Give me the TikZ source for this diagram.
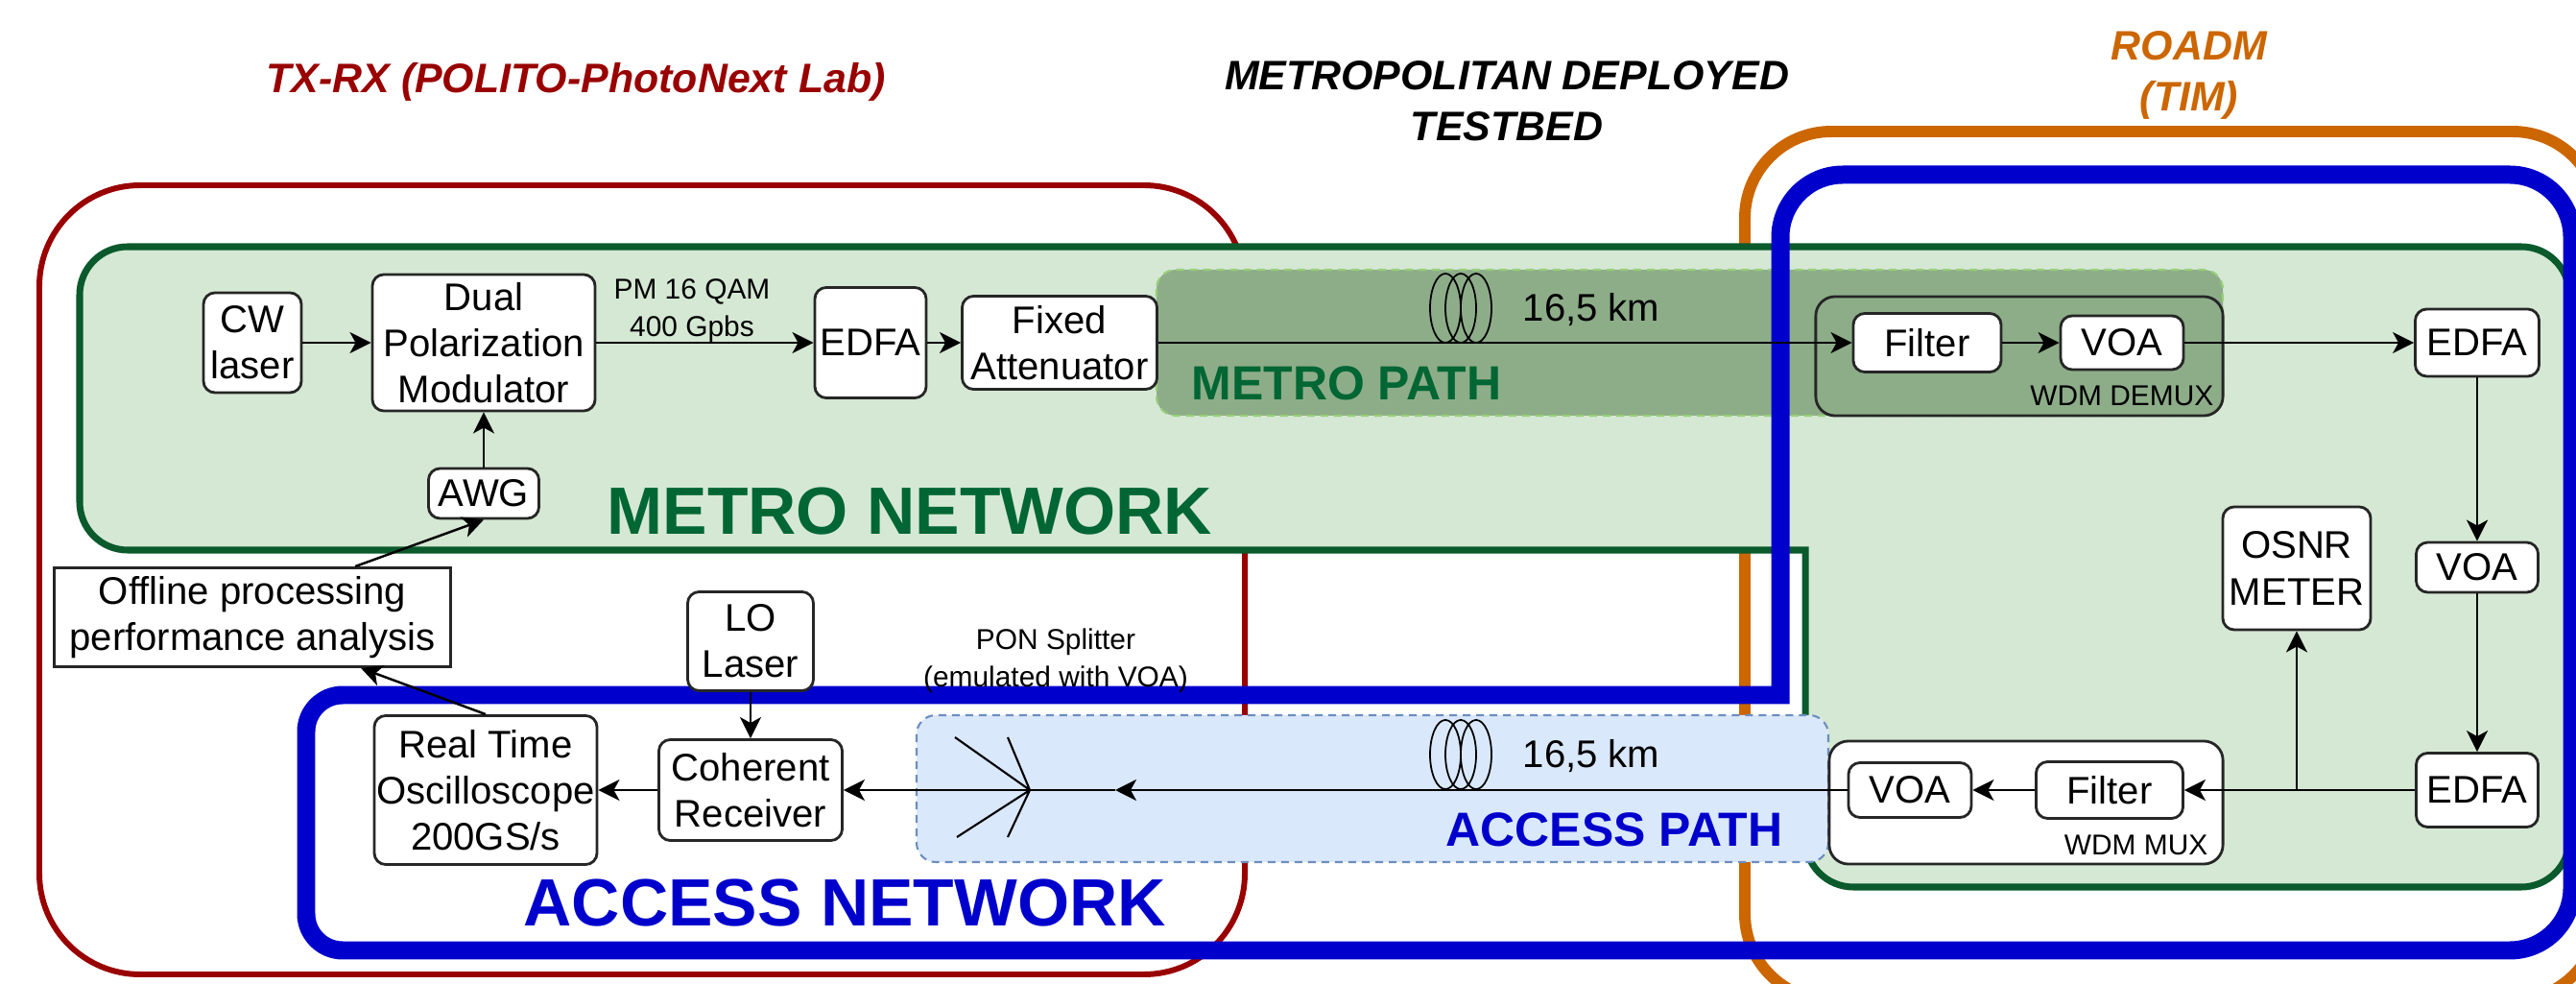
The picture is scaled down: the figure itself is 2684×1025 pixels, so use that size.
\documentclass[tikz,border=0pt]{standalone}
\usepackage{fontspec}
\setmainfont{Liberation Sans}
\usepackage{tikz}
\usetikzlibrary{arrows.meta,calc}

\definecolor{labred}{HTML}{990000}
\definecolor{roadmorange}{HTML}{CC6600}
\definecolor{accblue}{HTML}{0000CC}
\definecolor{metroline}{HTML}{0A5A2C}
\definecolor{metrotext}{HTML}{006633}
\definecolor{metrofill}{HTML}{D5E8D4}
\definecolor{pathfill}{HTML}{8DAD89}
\definecolor{pathdash}{HTML}{97D077}
\definecolor{accfill}{HTML}{DAE8FC}
\definecolor{accdash}{HTML}{6C8EBF}

\newcommand{\devfont}{\fontsize{11.4}{13.7}\selectfont}
\newcommand{\notefont}{\fontsize{8.5}{11}\selectfont}
\newcommand{\headfont}{\fontsize{12.2}{15.1}\selectfont\bfseries\itshape}
\newcommand{\netfont}{\fontsize{19.8}{24}\selectfont\bfseries}
\newcommand{\pathfont}{\fontsize{14.2}{17}\selectfont\bfseries}

\tikzset{
  dev/.style={draw=black!85, line width=0.8pt, fill=white, rounded corners=0.12cm,
    inner sep=0pt, align=center, font=\devfont},
  conn/.style={line width=0.7pt, -{Stealth[length=0.22cm,width=0.22cm,inset=0.06cm]}},
  region/.style={line width=0.6pt, dash pattern=on 0.08cm off 0.06cm, rounded corners=0.2cm},
  txt/.style={inner sep=0pt},
}

\begin{document}
\begin{tikzpicture}[x=0.01cm,y=-0.01cm]
  \useasboundingbox (0,0) rectangle (2684,1025);
  \clip (0,0) rectangle (2684,1025);

  % lab, ROADM and the two networks
  \draw[labred, line width=1.7pt, rounded corners=1.05cm] (41,193) rectangle (1297,1015);
  \draw[roadmorange, line width=3.4pt, rounded corners=0.9cm] (1818,137) rectangle (2708,1042);
  \draw[metroline, fill=metrofill, line width=2pt, line cap=rect, rounded corners=0.5cm]
    (1881,573) -- (83,573) -- (83,257) -- (2677,257) -- (2677,924) -- (1881,924) -- (1881,573);
  \draw[region, draw=pathdash, fill=pathfill] (1205,281) rectangle (2316,433);
  \draw[accblue, line width=5.4pt, line cap=rect, rounded corners=0.38cm]
    (1855,724) -- (319,724) -- (319,990) [rounded corners=0.65cm] -- (2680,990) -- (2680,182)
    -- (1855,182) -- (1855,724);
  \draw[region, draw=accdash, fill=accfill] (955,745) rectangle (1905,898);

  % titles
  \node[txt, labred, font=\headfont, anchor=base] (labtitle) at (600,97) {TX-RX (POLITO-PhotoNext Lab)};
  \node[txt, font=\headfont, align=center, anchor=north] (tbtitle) at (1570,63) {METROPOLITAN DEPLOYED\\TESTBED};
  \node[txt, roadmorange, font=\headfont, align=center, anchor=north] (roadmtitle) at (2281,32) {ROADM\\(TIM)};
  \node[txt, metrotext, font=\netfont, anchor=base west] (metronet) at (632,557) {METRO NETWORK};
  \node[txt, accblue, font=\netfont, anchor=base west] (accnet) at (545,965) {ACCESS NETWORK};
  \node[txt, metrotext, font=\pathfont, anchor=base west] (metrolbl) at (1241,417) {METRO PATH};
  \node[txt, accblue, font=\pathfont, anchor=base west] (acclbl) at (1506,882) {ACCESS PATH};

  % transmitter side
  \node[dev, minimum width=1.02cm, minimum height=1.04cm] (cw) at (263,357) {CW\\laser};
  \node[dev, minimum width=2.32cm, minimum height=1.42cm] (dpm) at (504,357) {Dual\\Polarization\\Modulator};
  \node[dev, minimum width=1.16cm, minimum height=1.15cm] (edfa1) at (907,357) {EDFA};
  \node[dev, minimum width=2.03cm, minimum height=0.97cm] (fixatt) at (1104,357) {Fixed\\Attenuator};
  \node[dev, minimum width=1.15cm, minimum height=0.52cm] (awg) at (504,514) {AWG};
  \node[dev, sharp corners, minimum width=4.12cm, minimum height=1.03cm] (offline) at (263,643) {Offline processing\\performance analysis};
  \node[txt, font=\notefont, align=center, anchor=north] (rate) at (721,290) {PM 16 QAM\\400 Gpbs};

  % receiver side
  \node[dev, minimum width=1.31cm, minimum height=1.03cm] (lo) at (782,668) {LO\\Laser};
  \node[dev, minimum width=2.32cm, minimum height=1.55cm] (osc) at (506,823) {Real Time\\Oscilloscope\\200GS/s};
  \node[dev, minimum width=1.91cm, minimum height=1.05cm] (rx) at (782,823) {Coherent\\Receiver};
  \node[txt, font=\notefont, align=center, anchor=north] (ponlbl) at (1100,654) {PON Splitter\\(emulated with VOA)};

  % ROADM
  \node[dev, fill=none, rounded corners=0.2cm, minimum width=4.24cm, minimum height=1.24cm] (demux) at (2104,371) {};
  \node[txt, font=\notefont, anchor=base east] (demuxlbl) at (2307,423) {WDM DEMUX};
  \node[dev, minimum width=1.54cm, minimum height=0.61cm] (filt1) at (2008,357) {Filter};
  \node[dev, minimum width=1.28cm, minimum height=0.56cm] (voa1) at (2211,357) {VOA};
  \node[dev, minimum width=1.29cm, minimum height=0.70cm] (edfa2) at (2581,357) {EDFA};
  \node[dev, minimum width=1.27cm, minimum height=0.52cm] (voa3) at (2581,591) {VOA};
  \node[dev, minimum width=1.27cm, minimum height=0.77cm] (edfa3) at (2581,823) {EDFA};
  \node[dev, minimum width=1.54cm, minimum height=1.28cm] (osnr) at (2393,592) {OSNR\\METER};
  \node[dev, rounded corners=0.2cm, minimum width=4.10cm, minimum height=1.28cm] (mux) at (2111,836) {};
  \node[txt, font=\notefont, anchor=base east] (muxlbl) at (2301,890) {WDM MUX};
  \node[dev, minimum width=1.53cm, minimum height=0.59cm] (filt2) at (2198,823) {Filter};
  \node[dev, minimum width=1.28cm, minimum height=0.57cm] (voa2) at (1990,823) {VOA};

  % fibre spools
  \node[txt, font=\devfont, anchor=base west] (metrokm) at (1586,335) {16,5 km};
  \node[txt, font=\devfont, anchor=base west] (acckm) at (1586,800) {16,5 km};
  \foreach \cy in {321,786}
    \foreach \cx in {1506,1522,1538}
      \draw[line width=0.5pt] (\cx,\cy) ellipse [x radius=0.16cm, y radius=0.36cm];

  \coordinate (split) at (1073,823);
  \coordinate (splitin) at (1162,823);
  \coordinate (tap) at (2393,823);

  % splitter
  \draw[line width=0.6pt] (split) -- ++(-78,-55) (split) -- ++(-23,-55)
    (split) -- ++(-76,49) (split) -- ++(-23,49);

  \draw[conn] (cw) -- (dpm);
  \draw[conn] (dpm) -- (edfa1);
  \draw[conn] (edfa1) -- (fixatt);
  \draw[conn] (fixatt) -- (filt1);
  \draw[conn] (filt1) -- (voa1);
  \draw[conn] (voa1) -- (edfa2);
  \draw[conn] (edfa2) -- (voa3);
  \draw[conn] (voa3) -- (edfa3);
  \draw[conn] (edfa3) -- (filt2);
  \draw[conn] (tap) -- (osnr);
  \draw[conn] (filt2) -- (voa2);
  \draw[conn] (voa2) -- (splitin);
  \draw[line width=0.7pt] (splitin) -- (split);
  \draw[conn] (split) -- (rx);
  \draw[conn] (rx) -- (osc);
  \draw[conn] (lo) -- (rx);
  \draw[conn] (awg) -- (dpm);
  \draw[conn] ([xshift=1.07cm]offline.north) -- (awg.south);
  \draw[conn] (osc.north) -- ([xshift=1.13cm]offline.south);
\end{tikzpicture}
\end{document}
